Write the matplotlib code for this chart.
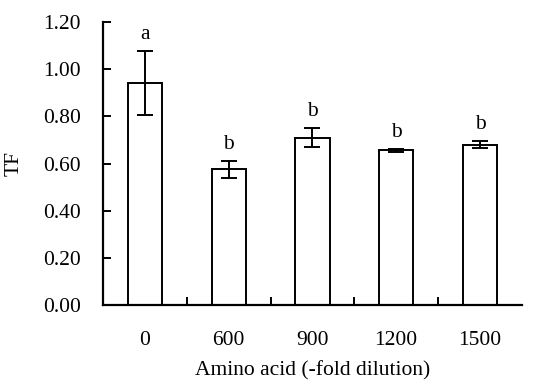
import numpy as np
import matplotlib.pyplot as plt

plt.rcParams['font.family'] = ['Liberation Serif', 'DejaVu Serif']

categories = ['0', '600', '900', '1200', '1500']
tf_mean = [0.942, 0.575, 0.710, 0.656, 0.680]
tf_err = [0.135, 0.035, 0.040, 0.006, 0.015]
letters = ['a', 'b', 'b', 'b', 'b']

fig = plt.figure(figsize=(5.38, 3.82), dpi=100)
ax = fig.add_axes([0.1915, 0.2016, 0.7785, 0.7405])

x = np.arange(len(categories))
ax.bar(x, tf_mean, width=0.41, color='white', edgecolor='black', linewidth=1.4,
       yerr=tf_err, error_kw=dict(ecolor='black', elinewidth=1.4, capsize=5.5, capthick=1.4))

for xi, m, e, lab in zip(x, tf_mean, tf_err, letters):
    ax.text(xi, m + e + 0.03, lab, ha='center', va='bottom', fontsize=15.5)

ax.set_xlim(-0.5, len(categories) - 0.5)
ax.set_ylim(0, 1.2)
ax.set_yticks(np.arange(0, 1.21, 0.2))
ax.set_yticklabels(['%.2f' % v for v in np.arange(0, 1.21, 0.2)])
ax.set_xticks(x)
ax.set_xticklabels(categories)
ax.set_xticks(x[:-1] + 0.5, minor=True)

ax.tick_params(axis='x', which='major', length=0, pad=19, labelsize=15.5)
ax.tick_params(axis='x', which='minor', direction='in', length=6, width=1.4)
ax.tick_params(axis='y', direction='in', length=6, width=1.4, pad=16, labelsize=15.5)

for s in ['top', 'right']:
    ax.spines[s].set_visible(False)
for s in ['left', 'bottom']:
    ax.spines[s].set_linewidth(1.6)

ax.set_xlabel('Amino acid (-fold dilution)', fontsize=15.5, labelpad=8)
ax.set_ylabel('TF', fontsize=15.5, labelpad=14)

fig.savefig('out.png', dpi=100)
